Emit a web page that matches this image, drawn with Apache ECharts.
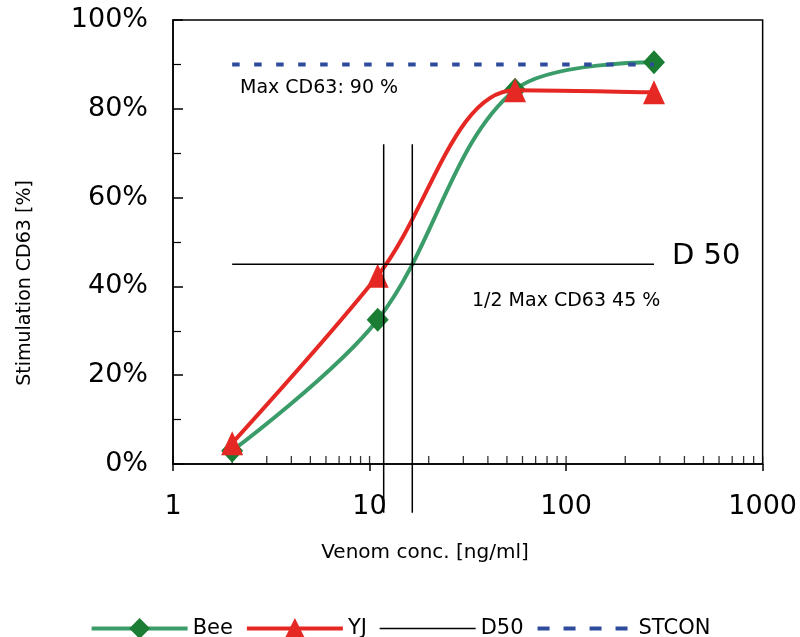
<!DOCTYPE html>
<html>
<head>
<meta charset="utf-8">
<script src="https://cdn.jsdelivr.net/npm/echarts@6/dist/echarts.min.js"></script>
<style>
  html, body { margin: 0; padding: 0; background: #fff; }
  #chart { width: 800px; height: 637px; }
</style>
</head>
<body>
<div id="chart"></div>
<script>
// 数据
const conc = [2, 11, 55, 280];
const beeValues = [3, 32.5, 84.3, 90.5];
const yjValues = [4.7, 42.4, 84.2, 83.7];
const d50Conc = [11.8, 16.5];
const d50Span = [72, -11];
const halfMax = 45;
const maxCD63 = 90;
const refSpan = [2, 280];
const xMinorTicks = [1, 2, 3, 4, 5, 6, 7, 8, 9, 10, 20, 30, 40, 50, 60, 70, 80, 90, 100,
  200, 300, 400, 500, 600, 700, 800, 900, 1000];

const FONT = 'DejaVu Sans';
const chart = echarts.init(document.getElementById('chart'));

const d50Series = d50Conc.map(c => ({
  name: 'D50',
  type: 'line',
  data: d50Span.map(v => [c, v]),
  symbol: 'none',
  clip: false,
  lineStyle: { color: '#000', width: 1.5 },
  itemStyle: { color: '#000' },
  z: 4
}));

const option = {
  animation: false,
  backgroundColor: '#fff',
  grid: {
    left: 173, right: 37, top: 20, bottom: 173,
    show: true, borderColor: '#000', borderWidth: 1.5
  },
  legend: {
    data: [
      { name: 'Bee', lineStyle: { width: 4 } },
      { name: 'YJ', lineStyle: { width: 4 } },
      { name: 'D50', itemStyle: { opacity: 0 }, lineStyle: { width: 1.5 } },
      { name: 'STCON', itemStyle: { opacity: 0 }, lineStyle: { width: 4, type: [12, 14] } }
    ],
    left: 'center',
    top: 613,
    itemWidth: 96,
    itemHeight: 26,
    itemGap: 12,
    textStyle: { fontFamily: FONT, fontSize: 21, color: '#000' }
  },
  xAxis: {
    type: 'log',
    logBase: 10,
    min: 1,
    max: 1000,
    axisLine: { lineStyle: { color: '#000', width: 1.5 } },
    axisTick: { show: true, inside: false, length: 7, lineStyle: { color: '#000', width: 1.5 } },
    axisLabel: { fontFamily: FONT, fontSize: 27, color: '#000', margin: 29, formatter: v => String(v) },
    splitLine: { show: false }
  },
  yAxis: {
    type: 'value',
    min: 0,
    max: 100,
    interval: 20,
    axisLine: { show: true, lineStyle: { color: '#000', width: 1.5 } },
    axisTick: { show: true, inside: true, length: 10, lineStyle: { color: '#000', width: 1.5 } },
    minorTick: { show: true, splitNumber: 2, length: 8, lineStyle: { color: '#000', width: 1.2 } },
    axisLabel: { fontFamily: FONT, fontSize: 27, color: '#000', margin: 25, formatter: '{value}%' },
    splitLine: { show: false }
  },
  series: [
    {
      name: 'xticks',
      type: 'scatter',
      data: xMinorTicks.map(t => [t, 0]),
      symbol: 'rect',
      symbolSize: [1.3, 8],
      symbolOffset: [0, '-50%'],
      itemStyle: { color: '#000' },
      clip: false,
      silent: true,
      z: 1
    },
    {
      name: 'Bee',
      type: 'line',
      data: conc.map((c, i) => [c, beeValues[i]]),
      smooth: 0.35,
      symbol: 'diamond',
      symbolSize: [22, 24],
      lineStyle: { color: '#3a9c68', width: 4 },
      itemStyle: { color: '#1b7d33' },
      z: 2
    },
    {
      name: 'YJ',
      type: 'line',
      data: conc.map((c, i) => [c, yjValues[i]]),
      smooth: 0.35,
      symbol: 'triangle',
      symbolSize: [22, 24],
      lineStyle: { color: '#e52823', width: 4 },
      itemStyle: { color: '#e52823' },
      z: 3
    },
    {
      name: 'D50',
      type: 'line',
      data: refSpan.map(c => [c, halfMax]),
      symbol: 'none',
      lineStyle: { color: '#000', width: 1.5 },
      itemStyle: { color: '#000' },
      z: 4
    },
    ...d50Series,
    {
      name: 'STCON',
      type: 'line',
      data: refSpan.map(c => [c, maxCD63]),
      symbol: 'none',
      lineStyle: { color: '#2f4c9c', width: 4, type: [7.5, 14.5] },
      itemStyle: { color: '#2f4c9c' },
      z: 5
    }
  ],
  graphic: [
    {
      type: 'text', x: 240, y: 88,
      style: { text: 'Max CD63: 90 %', fontFamily: FONT, fontSize: 19, fill: '#000', verticalAlign: 'middle' }
    },
    {
      type: 'text', x: 672, y: 256,
      style: { text: 'D 50', fontFamily: FONT, fontSize: 29, fill: '#000', verticalAlign: 'middle' }
    },
    {
      type: 'text', x: 472, y: 301,
      style: { text: '1/2 Max CD63 45 %', fontFamily: FONT, fontSize: 19, fill: '#000', verticalAlign: 'middle' }
    },
    // 坐标轴标题
    {
      type: 'text', x: 425, y: 553,
      style: { text: 'Venom conc. [ng/ml]', fontFamily: FONT, fontSize: 20, fill: '#000', align: 'center', verticalAlign: 'middle' }
    },
    {
      type: 'text', x: 25, y: 283, rotation: Math.PI / 2,
      style: { text: 'Stimulation CD63 [%]', fontFamily: FONT, fontSize: 19, fill: '#000', align: 'center', verticalAlign: 'middle' }
    }
  ]
};

chart.setOption(option);
</script>
</body>
</html>
